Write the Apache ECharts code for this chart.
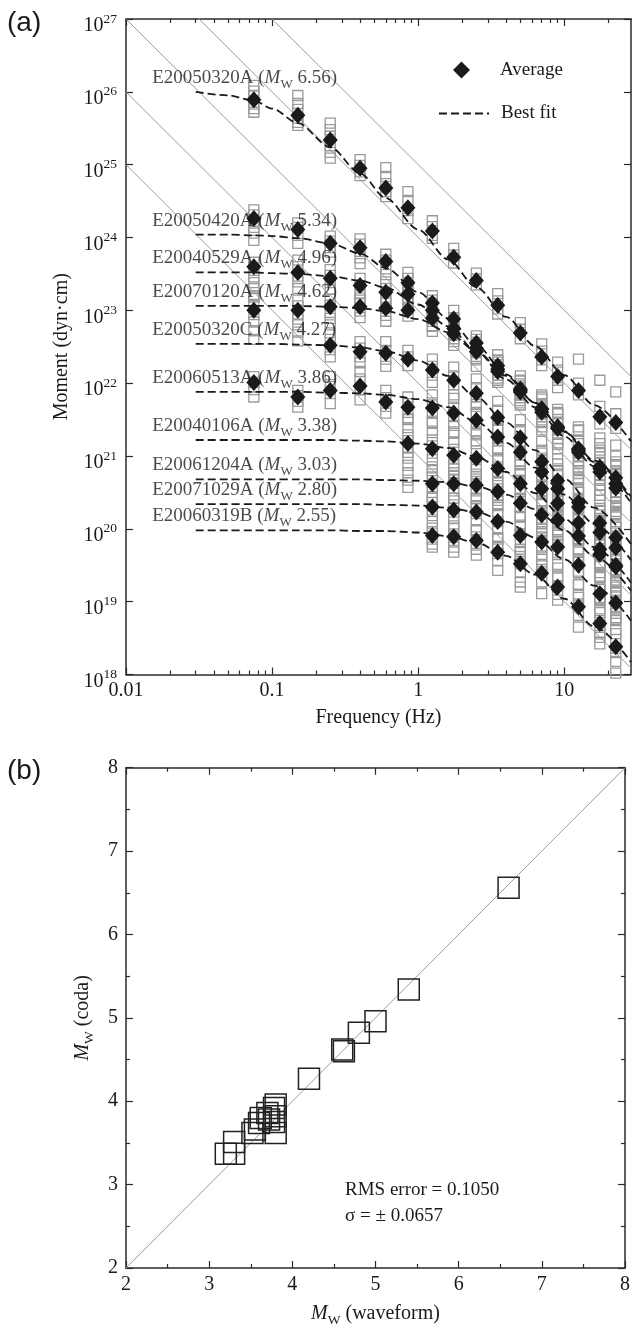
<!DOCTYPE html>
<html>
<head>
<meta charset="utf-8">
<script src="https://cdn.jsdelivr.net/npm/echarts@6.0.0/dist/echarts.min.js"></script>
</head>
<body style="margin:0;background:#fff">
<div id="main" style="width:633px;height:1328px"></div>
<script>
// ---------- panel (a): coda source spectra ----------
// centre frequencies of the bands (Hz)
const freqs = [0.075, 0.15, 0.25, 0.4, 0.6, 0.85, 1.25, 1.75, 2.5, 3.5, 5, 7, 9, 12.5, 17.5, 22.5];
// frequencies at which the best-fit curves are drawn (Hz)
const fitFreqs = [0.03, 0.05, 0.075, 0.1, 0.15, 0.25, 0.4, 0.6, 1, 1.6, 2.5, 4, 6.3, 10, 16, 28.6];

const eventIds = ['E20050320A', 'E20050420A', 'E20040529A', 'E20070120A', 'E20050320C',
                  'E20060513A', 'E20040106A', 'E20061204A', 'E20071029A', 'E20060319B'];
const eventMw = ['6.56', '5.34', '4.96', '4.62', '4.27', '3.86', '3.38', '3.03', '2.80', '2.55'];

// average moment per band, log10(dyn·cm)
const avgMoment = [
  [25.89, 25.68, 25.34, 24.95, 24.68, 24.41, 24.09, 23.73, 23.41, 23.07, 22.69, 22.36, 22.09, 21.90, 21.54, 21.46],
  [24.26, 24.11, 23.92, 23.86, 23.67, 23.38, 23.10, 22.88, 22.55, 22.19, 21.90, 21.65, 21.38, 21.05, 20.85, 20.70],
  [23.60, 23.52, 23.44, 23.34, 23.25, 23.22, 23.00, 22.75, 22.48, 22.24, 21.88, 21.60, 21.38, 21.10, 20.78, 20.56],
  [23.00, 23.00, 23.05, 23.05, 23.03, 23.00, 22.89, 22.68, 22.43, 22.16, 21.92, 21.64, 21.40, 21.08, 20.83, 20.62],
  [null, null, 22.52, 22.43, 22.41, 22.33, 22.18, 22.04, 21.86, 21.53, 21.25, 20.92, 20.66, 20.36, 20.08, 19.88],
  [22.01, 21.81, 21.90, 21.96, 21.74, 21.67, 21.66, 21.59, 21.49, 21.26, 21.05, 20.78, 20.55, 20.30, 19.95, 19.74],
  [null, null, null, null, null, 21.17, 21.10, 21.01, 20.97, 20.83, 20.62, 20.55, 20.35, 20.08, 19.72, 19.48],
  [null, null, null, null, null, null, 20.62, 20.62, 20.60, 20.51, 20.35, 20.19, 20.12, 19.90, 19.65, 19.50],
  [null, null, null, null, null, null, 20.30, 20.26, 20.23, 20.10, 19.91, 19.82, 19.75, 19.50, 19.11, 18.98],
  [null, null, null, null, null, null, 19.91, 19.89, 19.84, 19.68, 19.52, 19.39, 19.20, 18.93, 18.70, 18.38]
];

// best-fit curve, log10(dyn·cm) at fitFreqs
const fitMoment = [
  [26.00, 25.95, 25.88, 25.77, 25.57, 25.24, 24.88, 24.54, 24.11, 23.70, 23.32, 22.91, 22.51, 22.11, 21.70, 21.20],
  [24.04, 24.04, 24.03, 24.02, 23.99, 23.92, 23.78, 23.58, 23.25, 22.89, 22.52, 22.12, 21.73, 21.33, 20.92, 20.41],
  [23.52, 23.52, 23.52, 23.51, 23.50, 23.47, 23.41, 23.31, 23.08, 22.78, 22.44, 22.05, 21.67, 21.27, 20.86, 20.36],
  [23.06, 23.06, 23.06, 23.06, 23.06, 23.05, 23.03, 22.99, 22.88, 22.70, 22.44, 22.10, 21.73, 21.34, 20.94, 20.44],
  [22.54, 22.54, 22.54, 22.54, 22.53, 22.52, 22.49, 22.44, 22.31, 22.10, 21.81, 21.46, 21.08, 20.69, 20.29, 19.79],
  [21.88, 21.88, 21.88, 21.88, 21.88, 21.87, 21.86, 21.84, 21.78, 21.67, 21.47, 21.18, 20.84, 20.47, 20.07, 19.57],
  [21.22, 21.22, 21.22, 21.22, 21.22, 21.22, 21.21, 21.20, 21.17, 21.11, 20.99, 20.78, 20.49, 20.14, 19.75, 19.26],
  [20.68, 20.68, 20.68, 20.68, 20.68, 20.68, 20.68, 20.67, 20.66, 20.64, 20.58, 20.47, 20.27, 19.98, 19.63, 19.15],
  [20.34, 20.34, 20.34, 20.34, 20.34, 20.34, 20.34, 20.33, 20.32, 20.29, 20.23, 20.10, 19.88, 19.58, 19.22, 18.74],
  [19.98, 19.98, 19.98, 19.98, 19.98, 19.98, 19.97, 19.97, 19.95, 19.90, 19.81, 19.63, 19.37, 19.04, 18.66, 18.17]
];

// single-station estimates, read as offsets (log10 units) from the band average
const stationOffsets = [
  [[0.20, 0.12, 0.05, -0.06, -0.12, -0.17], [0.27, 0.16, 0.08, -0.04, -0.10, -0.14], [0.23, 0.14, 0.05, -0.08, -0.17, -0.25],
   [0.12, 0.04, -0.05, -0.10], [0.28, 0.16, 0.06, -0.05, -0.12], [0.22, 0.10, -0.04, -0.15], [0.14, 0.06, -0.06, -0.10],
   [0.12, 0.03, -0.08], [0.10, 0.02, -0.06], [0.16, 0.06, -0.05, -0.12], [0.14, 0.05, -0.08], [0.18, 0.08, -0.04, -0.12],
   [0.20, 0.09, -0.05, -0.15], [0.43, 0.10, -0.06], [0.50, 0.14, -0.10], [0.42, 0.12, -0.08]],
  [[0.12, 0.05, -0.04, -0.12, -0.20, -0.30], [0.09, 0.03, -0.08, -0.19], [0.10, 0.03, -0.06, -0.12], [0.12, 0.05, -0.05, -0.14, -0.22],
   [0.10, 0.02, -0.10, -0.18], [0.14, 0.06, -0.06, -0.13], [0.10, 0.04, -0.07], [0.12, 0.02, -0.08], [0.10, -0.03, -0.12],
   [0.12, 0.03, -0.08, -0.15], [0.14, 0.04, -0.06, -0.14], [0.16, 0.05, -0.07, -0.18], [0.20, 0.08, -0.08, -0.20],
   [0.35, 0.12, -0.05, -0.20], [0.40, 0.20, 0.05, -0.12, -0.25], [0.45, 0.22, 0.06, -0.10, -0.28]],
  [[0.06, -0.05, -0.14, -0.22, -0.30, -0.40], [0.17, 0.08, -0.05, -0.13, -0.22], [0.12, 0.04, -0.06, -0.15], [0.10, 0.00, -0.10, -0.20],
   [0.14, 0.05, -0.07, -0.15], [0.12, 0.02, -0.10, -0.20], [0.10, 0.00, -0.12, -0.22], [0.13, 0.03, -0.08, -0.18],
   [0.12, 0.04, -0.06, -0.16], [0.15, 0.05, -0.06, -0.17], [0.15, 0.05, -0.08, -0.18], [0.18, 0.06, -0.06, -0.20],
   [0.22, 0.08, -0.08, -0.22], [0.25, 0.10, -0.05, -0.20, -0.30], [0.30, 0.12, -0.04, -0.18, -0.32], [0.32, 0.15, -0.05, -0.20, -0.35]],
  [[0.18, 0.08, -0.06, -0.16, -0.28, -0.40], [0.14, 0.06, -0.05, -0.12, -0.20, -0.30, -0.42], [0.10, 0.02, -0.08, -0.16, -0.25],
   [0.12, 0.04, -0.06, -0.15], [0.10, 0.00, -0.10, -0.18], [0.14, 0.04, -0.08], [0.12, 0.02, -0.10, -0.18], [0.15, 0.05, -0.07, -0.16],
   [0.13, 0.03, -0.09, -0.20], [0.16, 0.06, -0.05, -0.15], [0.18, 0.07, -0.06, -0.19], [0.20, 0.08, -0.06, -0.18, -0.28],
   [0.24, 0.10, -0.04, -0.16, -0.30], [0.28, 0.12, -0.03, -0.15, -0.32], [0.34, 0.16, 0.02, -0.14, -0.30], [0.38, 0.18, 0.03, -0.12, -0.30, -0.42]],
  [null, null, [0.17, 0.08, -0.06, -0.16], [0.14, 0.05, -0.07, -0.15], [0.16, 0.04, -0.08, -0.18], [0.12, 0.03, -0.09],
   [0.15, 0.05, -0.07, -0.17], [0.18, 0.06, -0.06, -0.20], [0.20, 0.08, -0.05, -0.18, -0.26], [0.22, 0.10, -0.04, -0.16, -0.28],
   [0.25, 0.10, -0.06, -0.20, -0.32], [0.28, 0.12, -0.04, -0.18, -0.34], [0.30, 0.14, -0.02, -0.20, -0.36],
   [0.34, 0.16, 0.02, -0.15, -0.32, -0.45], [0.38, 0.20, 0.04, -0.14, -0.30, -0.46], [0.42, 0.22, 0.06, -0.12, -0.30, -0.48]],
  [[0.08, 0.00, -0.10, -0.20], [0.09, 0.02, -0.06, -0.14], [0.19, 0.08, -0.04, -0.18], [0.20, 0.10, -0.05, -0.19],
   [0.16, 0.06, -0.06, -0.15], [0.14, 0.05, -0.07, -0.16], [0.18, 0.07, -0.06, -0.18], [0.20, 0.08, -0.05, -0.17, -0.26],
   [0.22, 0.10, -0.04, -0.16, -0.28], [0.24, 0.12, -0.02, -0.15, -0.30], [0.28, 0.14, 0.02, -0.12, -0.26, -0.38],
   [0.30, 0.16, 0.03, -0.12, -0.26, -0.40], [0.34, 0.18, 0.04, -0.10, -0.24, -0.40], [0.38, 0.20, 0.05, -0.10, -0.26, -0.44],
   [0.44, 0.24, 0.08, -0.08, -0.24, -0.42, -0.55], [0.50, 0.28, 0.10, -0.08, -0.25, -0.44, -0.60]],
  [null, null, null, null, null,
   [0.33, 0.22, 0.12, 0.04, -0.05, -0.12, -0.20, -0.30, -0.40, -0.50, -0.60], [0.35, 0.22, 0.12, 0.04, -0.06, -0.15, -0.25, -0.35],
   [0.30, 0.18, 0.08, -0.04, -0.14, -0.24, -0.34], [0.32, 0.20, 0.10, -0.02, -0.12, -0.22, -0.32, -0.42],
   [0.38, 0.24, 0.12, 0.02, -0.10, -0.20, -0.32, -0.44], [0.40, 0.26, 0.14, 0.03, -0.08, -0.20, -0.32, -0.46],
   [0.42, 0.28, 0.16, 0.04, -0.08, -0.20, -0.34, -0.48], [0.44, 0.30, 0.16, 0.04, -0.10, -0.22, -0.36, -0.50],
   [0.48, 0.32, 0.18, 0.05, -0.08, -0.22, -0.36, -0.52], [0.52, 0.36, 0.20, 0.06, -0.08, -0.22, -0.38, -0.55, -0.70],
   [0.56, 0.40, 0.24, 0.08, -0.06, -0.20, -0.36, -0.54, -0.72]],
  [null, null, null, null, null, null,
   [0.18, 0.08, -0.04, -0.12, -0.20], [0.20, 0.10, 0.00, -0.10, -0.20], [0.22, 0.12, 0.02, -0.08, -0.18, -0.28],
   [0.26, 0.14, 0.04, -0.08, -0.18, -0.30], [0.30, 0.16, 0.05, -0.06, -0.18, -0.30, -0.42], [0.32, 0.18, 0.06, -0.06, -0.18, -0.30, -0.44],
   [0.34, 0.20, 0.08, -0.04, -0.16, -0.30, -0.44], [0.40, 0.24, 0.10, -0.04, -0.18, -0.32, -0.48],
   [0.46, 0.30, 0.14, 0.00, -0.14, -0.30, -0.46, -0.62], [0.52, 0.34, 0.16, 0.02, -0.14, -0.30, -0.48, -0.66]],
  [null, null, null, null, null, null,
   [0.14, 0.06, -0.04, -0.12, -0.20], [0.16, 0.07, -0.03, -0.12, -0.22], [0.18, 0.08, -0.02, -0.12, -0.24],
   [0.22, 0.10, 0.00, -0.10, -0.22, -0.34], [0.26, 0.12, 0.02, -0.10, -0.22, -0.36], [0.28, 0.14, 0.02, -0.10, -0.24, -0.38],
   [0.30, 0.16, 0.04, -0.10, -0.24, -0.40], [0.34, 0.18, 0.04, -0.10, -0.26, -0.44],
   [0.40, 0.22, 0.06, -0.10, -0.26, -0.44, -0.60], [0.46, 0.28, 0.10, -0.06, -0.24, -0.42, -0.62]],
  [null, null, null, null, null, null,
   [0.10, 0.03, -0.05, -0.12, -0.16], [0.12, 0.04, -0.05, -0.14, -0.21], [0.14, 0.05, -0.04, -0.12, -0.20],
   [0.18, 0.08, -0.02, -0.12, -0.25], [0.20, 0.10, 0.00, -0.12, -0.25, -0.32], [0.24, 0.12, 0.02, -0.12, -0.28],
   [0.26, 0.14, 0.02, -0.10, -0.18], [0.30, 0.16, 0.04, -0.12, -0.28], [0.36, 0.20, 0.04, -0.12, -0.28],
   [0.40, 0.24, 0.10, -0.08, -0.20, -0.36]]
];

// grey guide lines (slope -2), end points [f (Hz), log10 M]
const guideLines = [
  [[0.01, 25], [28.6, 18.088]],
  [[0.01, 26], [28.6, 19.088]],
  [[0.01, 27], [28.6, 20.088]],
  [[0.01, 28], [28.6, 21.088]],
  [[0.01, 29], [28.6, 22.088]]
];

const freqTicks = [0.01, 0.1, 1, 10];
const freqTickLabels = ['0.01', '0.1', '1', '10'];
const freqMax = 28.6;

// ---------- panel (b): coda Mw vs waveform Mw ----------
const mwWaveform = [6.60, 5.40, 5.00, 4.80, 4.60, 4.62, 4.20, 3.20, 3.30, 3.30, 3.52, 3.55, 3.60, 3.62, 3.70, 3.72, 3.78, 3.80, 3.80, 3.80, 3.78];
const mwCoda     = [6.56, 5.34, 4.96, 4.82, 4.62, 4.60, 4.27, 3.37, 3.51, 3.37, 3.62, 3.66, 3.74, 3.80, 3.86, 3.78, 3.92, 3.96, 3.82, 3.62, 3.75];

// ---------------------------------------------------
const lg = Math.log10;
const SERIF = '"Liberation Serif", "Times New Roman", serif';
const INK = '#1a1a1a';
const AXIS = '#2a2a2a';
const xMax = lg(freqMax);

const majorX = freqTicks.map(lg);
const minorX = [];
majorX.forEach(k => {
  for (let m = 2; m <= 9; m++) {
    const v = k + lg(m);
    if (v <= xMax) minorX.push(v);
  }
});

const squareData = [];
const avgData = [];
avgMoment.forEach((row, k) => {
  row.forEach((m, i) => {
    if (m == null) return;
    avgData.push([lg(freqs[i]), m]);
    (stationOffsets[k][i] || []).forEach(d => squareData.push([lg(freqs[i]), m + d]));
  });
});

const tickStyle = { color: AXIS, width: 1.2 };
const lineStyleAx = { color: AXIS, width: 1.5 };

function freqAxis(pos, ticks, len, withLabels, withLine) {
  return {
    gridIndex: 0, type: 'value', position: pos, min: -2, max: xMax,
    axisLine: { show: withLine, onZero: false, lineStyle: lineStyleAx },
    axisTick: { show: true, inside: true, length: len, customValues: ticks, lineStyle: tickStyle },
    axisLabel: withLabels ? {
      customValues: majorX, margin: 6, color: INK, fontFamily: SERIF, fontSize: 20,
      formatter: v => freqTickLabels[majorX.findIndex(t => Math.abs(t - v) < 1e-6)]
    } : { show: false },
    splitLine: { show: false }
  };
}

const supRich = {
  b: { fontFamily: SERIF, fontSize: 20, color: INK, lineHeight: 28 },
  s: { fontFamily: SERIF, fontSize: 13.5, color: INK, lineHeight: 13, verticalAlign: 'top' }
};
const mwRich = {
  n: { fontFamily: SERIF, fontSize: 19, color: INK, lineHeight: 26 },
  i: { fontFamily: SERIF, fontSize: 19, color: INK, lineHeight: 26, fontStyle: 'italic' },
  s: { fontFamily: SERIF, fontSize: 13, color: INK, lineHeight: 13, verticalAlign: 'bottom' }
};
const nameRich = {
  n: { fontFamily: SERIF, fontSize: 20, color: INK, lineHeight: 26 },
  i: { fontFamily: SERIF, fontSize: 20, color: INK, lineHeight: 26, fontStyle: 'italic' },
  s: { fontFamily: SERIF, fontSize: 13.5, color: INK, lineHeight: 13, verticalAlign: 'bottom' }
};

function mwAxisX(pos, labels) {
  return {
    gridIndex: 1, type: 'value', position: pos, min: 2, max: 8, interval: 1,
    axisLine: { onZero: false, lineStyle: lineStyleAx },
    axisTick: { inside: true, length: 7, lineStyle: tickStyle },
    minorTick: { show: true, splitNumber: 2, length: 4, lineStyle: tickStyle },
    axisLabel: labels ? { margin: 7, color: INK, fontFamily: SERIF, fontSize: 20 } : { show: false },
    splitLine: { show: false },
    name: labels ? '{i|M}{s|W}{n| (waveform)}' : '',
    nameLocation: 'middle', nameGap: 33,
    nameTextStyle: { rich: nameRich }
  };
}
function mwAxisY(pos, labels) {
  return {
    gridIndex: 1, type: 'value', position: pos, min: 2, max: 8, interval: 1,
    axisLine: { onZero: false, lineStyle: lineStyleAx },
    axisTick: { inside: true, length: 7, lineStyle: tickStyle },
    minorTick: { show: true, splitNumber: 2, length: 4, lineStyle: tickStyle },
    axisLabel: labels ? { margin: 8, color: INK, fontFamily: SERIF, fontSize: 20 } : { show: false },
    splitLine: { show: false },
    name: labels ? '{i|M}{s|W}{n| (coda)}' : '',
    nameLocation: 'middle', nameGap: 30,
    nameTextStyle: { rich: nameRich }
  };
}

const series = [];
guideLines.forEach(g => series.push({
  type: 'line', xAxisIndex: 0, yAxisIndex: 0, z: 1, silent: true,
  data: g.map(p => [lg(p[0]), p[1]]), symbol: 'none', clip: true,
  lineStyle: { color: '#9c9c9c', width: 1 }
}));
series.push({
  name: 'Station', type: 'scatter', xAxisIndex: 0, yAxisIndex: 0, z: 2,
  data: squareData, symbol: 'rect', symbolSize: 10, clip: true,
  itemStyle: { color: 'rgba(0,0,0,0)', borderColor: '#9a9a9a', borderWidth: 1.3, opacity: 1 }
});
fitMoment.forEach(row => series.push({
  name: 'Best fit', type: 'line', xAxisIndex: 0, yAxisIndex: 0, z: 3,
  data: row.map((m, i) => [lg(fitFreqs[i]), m]),
  symbol: 'none', smooth: 0.3, smoothMonotone: 'x', clip: true,
  itemStyle: { color: INK },
  lineStyle: { color: INK, width: 1.8, type: [8, 4] }
}));
series.push({
  name: 'Average', type: 'scatter', xAxisIndex: 0, yAxisIndex: 0, z: 4,
  data: avgData, symbol: 'diamond', symbolSize: [15, 17],
  itemStyle: { color: INK, opacity: 1 }
});
series.push({
  type: 'scatter', xAxisIndex: 0, yAxisIndex: 0, z: 5, silent: true,
  data: eventIds.map((id, k) => [lg(fitFreqs[0]), fitMoment[k][0]]),
  symbolSize: 1, itemStyle: { color: 'rgba(0,0,0,0)' },
  label: {
    show: true, position: 'right', distance: 0, offset: [-44, -14],
    formatter: p => '{n|' + eventIds[p.dataIndex] + ' (}{i|M}{s|W}{n| ' + eventMw[p.dataIndex] + ')}',
    rich: mwRich
  }
});
// panel (b)
series.push({
  type: 'line', xAxisIndex: 4, yAxisIndex: 2, z: 1, silent: true,
  data: [[2, 2], [8, 8]], symbol: 'none', lineStyle: { color: '#9c9c9c', width: 1 }
});
series.push({
  type: 'scatter', xAxisIndex: 4, yAxisIndex: 2, z: 3,
  data: mwWaveform.map((w, i) => [w, mwCoda[i]]), symbol: 'rect', symbolSize: 21,
  itemStyle: { color: 'rgba(0,0,0,0)', borderColor: '#222', borderWidth: 1.5, opacity: 1 }
});

const legendText = { fontFamily: SERIF, fontSize: 19, color: INK };
const option = {
  animation: false,
  backgroundColor: '#fff',
  grid: [
    { left: 126, top: 19, width: 505, height: 655.5 },
    { left: 126, top: 767.7, width: 505, height: 502.3 }
  ],
  legend: [
    {
      data: ['Average'], left: 453, top: 60.5, padding: 0,
      itemWidth: 17, itemHeight: 17, selectedMode: false,
      textStyle: Object.assign({ padding: [0, 0, 0, 25] }, legendText)
    },
    {
      data: [{ name: 'Best fit', itemStyle: { opacity: 0 } }], left: 438, top: 104, padding: 0,
      itemWidth: 50, itemHeight: 16, selectedMode: false,
      textStyle: Object.assign({ padding: [0, 0, 0, 7] }, legendText)
    }
  ],
  xAxis: [
    Object.assign(freqAxis('bottom', majorX, 7, true, true), {
      name: 'Frequency (Hz)', nameLocation: 'middle', nameGap: 33,
      nameTextStyle: { fontFamily: SERIF, fontSize: 20, color: INK }
    }),
    freqAxis('bottom', minorX, 4, false, false),
    freqAxis('top', majorX, 7, false, true),
    freqAxis('top', minorX, 4, false, false),
    mwAxisX('bottom', true),
    mwAxisX('top', false)
  ],
  yAxis: [
    {
      gridIndex: 0, type: 'value', position: 'left', min: 18, max: 27, interval: 1,
      axisLine: { onZero: false, lineStyle: lineStyleAx },
      axisTick: { inside: true, length: 7, lineStyle: tickStyle },
      axisLabel: { margin: 9, formatter: v => '{b|10}{s|' + v + '}', rich: supRich, padding: [14, 0, 0, 0] },
      splitLine: { show: false },
      name: 'Moment (dyn·cm)', nameLocation: 'middle', nameGap: 54,
      nameTextStyle: { fontFamily: SERIF, fontSize: 20, color: INK }
    },
    {
      gridIndex: 0, type: 'value', position: 'right', min: 18, max: 27, interval: 1,
      axisLine: { onZero: false, lineStyle: lineStyleAx },
      axisTick: { inside: true, length: 7, lineStyle: tickStyle },
      axisLabel: { show: false }, splitLine: { show: false }
    },
    mwAxisY('left', true),
    mwAxisY('right', false)
  ],
  graphic: [
    { type: 'text', left: 7, top: 9, style: { text: '(a)', font: '28px "Liberation Sans", Arial, sans-serif', fill: INK } },
    { type: 'text', left: 7, top: 757, style: { text: '(b)', font: '28px "Liberation Sans", Arial, sans-serif', fill: INK } },
    { type: 'text', left: 345, top: 1181, style: { text: 'RMS error = 0.1050', font: '19px "Liberation Serif", serif', fill: INK } },
    { type: 'text', left: 345, top: 1207, style: { text: 'σ = ± 0.0657', font: '19px "Liberation Serif", serif', fill: INK } }
  ],
  series: series
};

const chart = echarts.init(document.getElementById('main'), null, { renderer: 'canvas' });
chart.setOption(option);
</script>
</body>
</html>
